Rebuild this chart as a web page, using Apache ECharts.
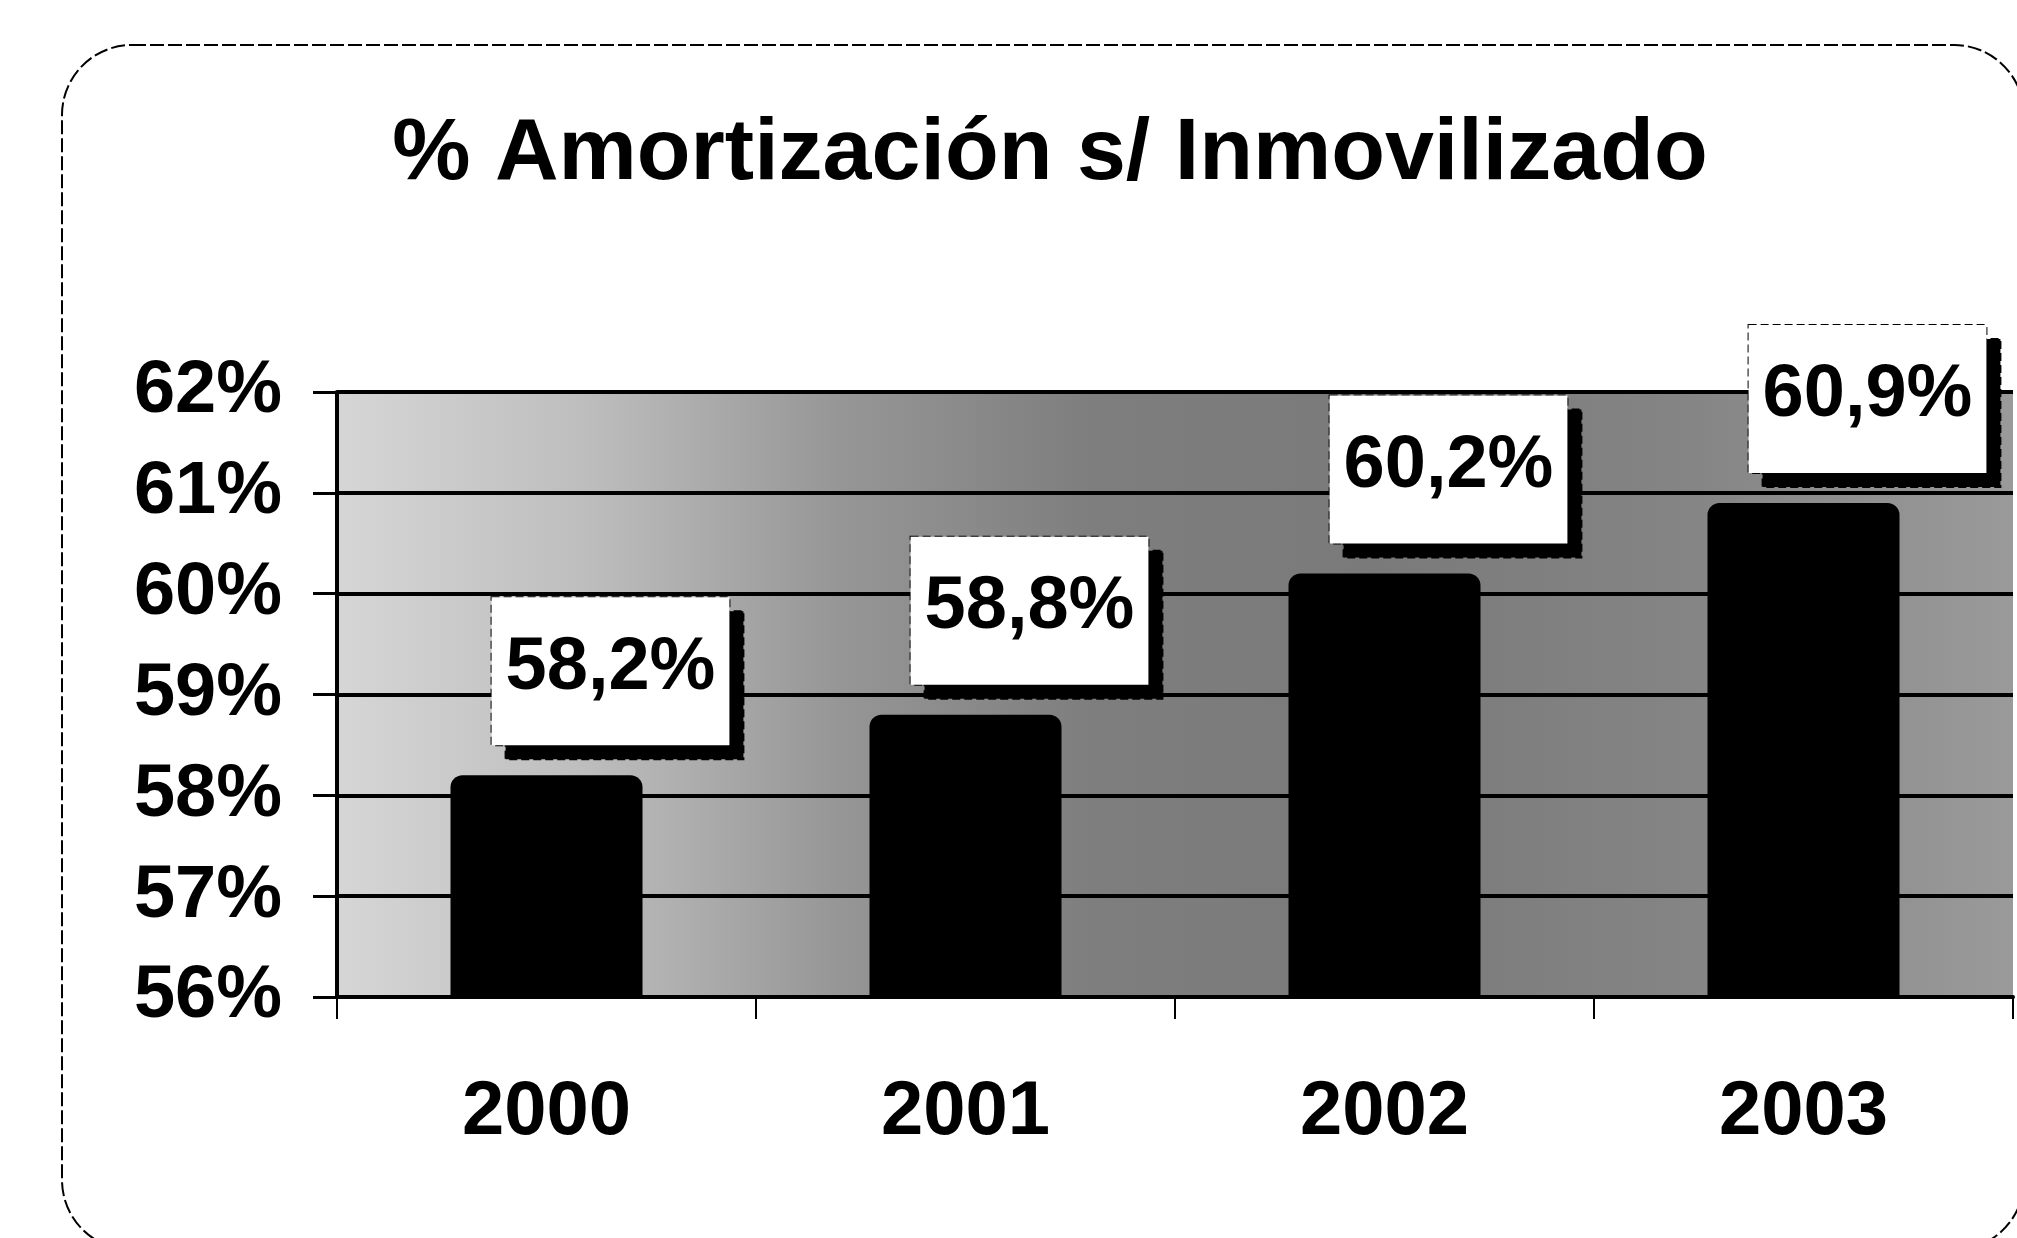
<!DOCTYPE html>
<html>
<head>
<meta charset="utf-8">
<script src="https://cdn.jsdelivr.net/npm/echarts@6/dist/echarts.min.js"></script>
<style>
  html, body { margin: 0; padding: 0; background: #fff; }
  #chart { width: 2017px; height: 1238px; }
</style>
</head>
<body>
<div id="chart"></div>
<script>
// Years on the category axis
const years = ['2000', '2001', '2002', '2003'];
// Depreciation as a percentage of fixed assets
const amortPct = [58.2, 58.8, 60.2, 60.9];
// Value axis range and step
const yMin = 56;
const yMax = 62;
const yStep = 1;

const titleText = '% Amortización s/ Inmovilizado';
const fontFamily = '"Liberation Sans", Arial, sans-serif';

const fmtPct = v => v.toFixed(1).replace('.', ',') + '%';

const chart = echarts.init(document.getElementById('chart'), null, { renderer: 'canvas' });

chart.setOption({
  animation: false,
  backgroundColor: '#ffffff',
  title: {
    text: titleText,
    left: 1045,
    top: 106,
    textAlign: 'center',
    textStyle: { fontFamily, fontSize: 88, fontWeight: 'bold', color: '#000' }
  },
  graphic: [
    {
      // rounded frame around the chart
      type: 'rect',
      shape: { x: 62, y: 45, width: 1962, height: 1205, r: 70 },
      style: { fill: 'none', stroke: '#000', lineWidth: 2, lineDash: [14, 4] },
      silent: true,
      z: 0
    }
  ],
  grid: {
    left: 337,
    right: 4,
    top: 392,
    bottom: 241,
    show: true,
    borderWidth: 0,
    backgroundColor: new echarts.graphic.LinearGradient(0, 0, 1, 0, [
      { offset: 0.0, color: '#d6d6d6' },
      { offset: 0.15, color: '#bdbdbd' },
      { offset: 0.3, color: '#969696' },
      { offset: 0.45, color: '#7e7e7e' },
      { offset: 0.62, color: '#7a7a7a' },
      { offset: 0.8, color: '#848484' },
      { offset: 1.0, color: '#9a9a9a' }
    ])
  },
  xAxis: {
    type: 'category',
    data: years,
    boundaryGap: true,
    axisLine: { show: true, lineStyle: { color: '#000', width: 4 } },
    axisTick: { show: true, length: 22, lineStyle: { color: '#000', width: 2 } },
    axisLabel: {
      margin: 78,
      fontFamily, fontSize: 76, fontWeight: 'bold', color: '#000'
    },
    splitLine: { show: false }
  },
  yAxis: {
    type: 'value',
    min: yMin,
    max: yMax,
    interval: yStep,
    axisLine: { show: true, lineStyle: { color: '#000', width: 4 } },
    axisTick: { show: true, length: 24, lineStyle: { color: '#000', width: 3 } },
    axisLabel: {
      margin: 55,
      formatter: v => v + '%',
      fontFamily, fontSize: 74, fontWeight: 'bold', color: '#000'
    },
    splitLine: { show: true, lineStyle: { color: '#000', width: 4 } }
  },
  series: [
    {
      type: 'bar',
      data: amortPct,
      barWidth: 192,
      itemStyle: { color: '#000', borderRadius: [12, 12, 0, 0] },
      label: {
        show: true,
        position: 'top',
        distance: 30,
        offset: [64, 0],
        formatter: p => fmtPct(p.value),
        fontFamily, fontSize: 74, fontWeight: 'bold', color: '#000',
        backgroundColor: '#fff',
        borderColor: '#000',
        borderWidth: 1,
        borderType: 'dashed',
        padding: [34, 14, 40, 14],
        lineHeight: 74,
        shadowColor: '#000',
        shadowBlur: 0,
        shadowOffsetX: 14,
        shadowOffsetY: 14
      },
      z: 3
    }
  ]
});
</script>
</body>
</html>
